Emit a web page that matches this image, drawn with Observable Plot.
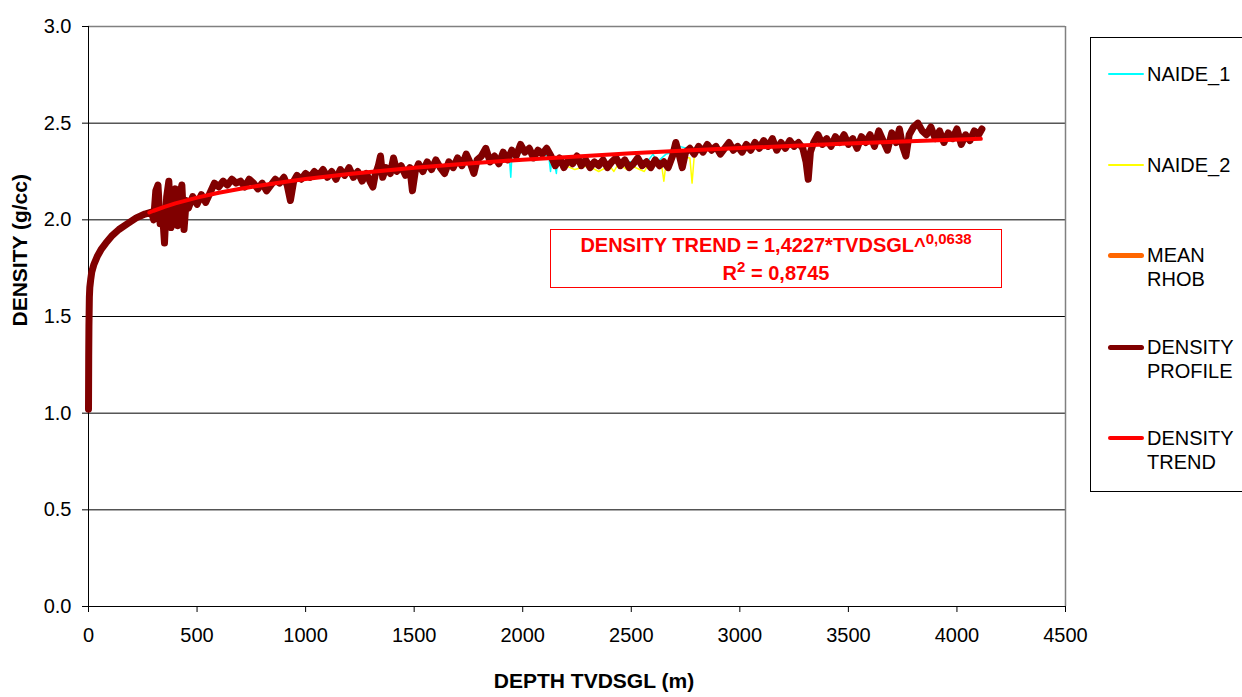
<!DOCTYPE html>
<html><head><meta charset="utf-8">
<script src="https://cdn.jsdelivr.net/npm/d3@7"></script>
<script src="https://cdn.jsdelivr.net/npm/@observablehq/plot@0.6"></script>
<style>
html,body{margin:0;padding:0;background:#fff;overflow:hidden}
#wrap{position:relative;width:1242px;height:697px;font-family:"Liberation Sans",Arial,sans-serif}
#note{position:absolute;left:550px;top:229px;width:452px;height:59px;box-sizing:border-box;border:1px solid #ff0000;color:#ff0000;font-weight:bold;font-size:20px;line-height:26px;text-align:center;padding-top:2px;background:#fff}
#note sup{font-size:15px;vertical-align:baseline;position:relative;top:-8px}
#legend{position:absolute;left:1090px;top:37px;width:170px;height:455px;box-sizing:border-box;border:1px solid #000;background:#fff}
.sw{position:absolute;left:17px;width:36px;border-radius:3px}
.lab{position:absolute;left:56px;font-size:20px;line-height:24px;color:#000;white-space:nowrap}
</style></head>
<body>
<div id="wrap"></div>
<script>
// ---- data ----
const xTicks = [0, 500, 1000, 1500, 2000, 2500, 3000, 3500, 4000, 4500];
const yTicks = [0, 0.5, 1.0, 1.5, 2.0, 2.5, 3.0];
const gridValues = [0.5, 1.0, 1.5, 2.0, 2.5];

// DENSITY PROFILE: [depth m, density g/cc]
const densityProfile = [
  [0,1.02],[1,1.30],[2,1.45],[4,1.60],[6,1.65],[10,1.69],[15,1.73],[25,1.77],[40,1.81],[60,1.85],[80,1.88],
  [110,1.92],[140,1.95],[180,1.98],[220,2.01],[260,2.03],[290,2.04],
  [300,2.00],[310,2.15],[320,2.18],[330,1.98],[340,2.05],[350,1.88],[360,2.12],[370,2.20],[380,1.96],
  [390,2.08],[400,2.16],[410,1.97],[420,2.12],[430,2.18],[440,1.95],[450,2.10],[460,2.06],
  [480,2.12],[500,2.08],[520,2.13],[540,2.09],[560,2.14],
  [580,2.19],[600,2.17],[620,2.20],[640,2.18],[660,2.21],[680,2.19],
  [700,2.20],[720,2.17],[740,2.21],[760,2.19],[780,2.16],[800,2.19],[820,2.15],[840,2.18],[860,2.21],
  [880,2.19],[900,2.22],[915,2.18],[930,2.10],[945,2.20],
  [960,2.23],[980,2.21],[1000,2.24],[1020,2.22],[1040,2.25],[1060,2.23],[1080,2.26],[1100,2.22],
  [1120,2.25],[1140,2.21],[1160,2.26],[1180,2.23],[1200,2.27],[1220,2.22],[1240,2.25],
  [1260,2.20],[1280,2.24],[1300,2.19],[1310,2.17],[1320,2.23],[1335,2.28],[1345,2.33],[1355,2.22],
  [1370,2.27],[1390,2.24],[1405,2.32],[1420,2.25],[1440,2.28],[1460,2.23],[1480,2.27],[1492,2.15],[1505,2.25],
  [1520,2.29],[1540,2.25],[1560,2.30],[1580,2.26],[1600,2.31],[1620,2.27],[1640,2.24],[1660,2.30],[1680,2.27],
  [1700,2.32],[1720,2.28],[1740,2.34],[1760,2.29],[1775,2.24],[1790,2.31],[1810,2.33],[1830,2.37],[1850,2.30],
  [1870,2.33],[1890,2.29],[1910,2.35],[1930,2.31],[1950,2.36],
  [1970,2.33],[1990,2.39],[2010,2.35],[2030,2.37],[2050,2.32],[2070,2.36],[2090,2.34],[2110,2.37],[2130,2.33],
  [2150,2.28],[2170,2.32],[2190,2.27],[2210,2.31],[2230,2.29],[2250,2.33],[2270,2.28],
  [2290,2.31],[2310,2.27],[2330,2.30],[2350,2.28],[2370,2.31],[2390,2.27],[2410,2.30],[2430,2.32],[2450,2.28],
  [2470,2.31],[2490,2.27],[2510,2.29],[2530,2.32],[2550,2.28],[2570,2.30],[2590,2.27],[2610,2.31],[2630,2.28],
  [2650,2.30],[2670,2.27],[2690,2.33],[2705,2.40],[2720,2.34],[2735,2.27],[2750,2.35],[2770,2.37],
  [2790,2.34],[2810,2.38],[2830,2.35],[2850,2.39],[2870,2.36],[2890,2.38],[2910,2.34],[2930,2.37],[2950,2.40],
  [2970,2.36],[2990,2.38],[3010,2.35],[3030,2.39],[3050,2.36],
  [3070,2.40],[3090,2.37],[3110,2.41],[3130,2.38],[3150,2.42],[3170,2.36],[3190,2.40],[3210,2.37],[3230,2.41],
  [3250,2.38],[3270,2.40],[3290,2.37],[3305,2.30],[3315,2.21],[3325,2.35],
  [3340,2.40],[3360,2.44],[3380,2.39],[3400,2.42],[3420,2.38],[3440,2.43],[3460,2.40],[3480,2.44],[3500,2.39],
  [3520,2.42],[3540,2.37],[3560,2.43],[3580,2.40],
  [3600,2.44],[3620,2.38],[3640,2.46],[3660,2.41],[3680,2.36],[3700,2.45],[3720,2.40],[3735,2.47],
  [3750,2.38],[3765,2.33],[3780,2.44],[3800,2.48],[3820,2.50],[3840,2.46],
  [3860,2.44],[3880,2.48],[3900,2.42],[3920,2.46],[3940,2.40],[3960,2.45],[3980,2.42],[4000,2.47],[4020,2.39],
  [4040,2.44],[4060,2.41],[4080,2.46],[4100,2.44],[4115,2.47]
];

// NAIDE_1 (visible only where it leaves the profile band)
const naide1 = [
  [1900,2.32],[1940,2.30],[1945,2.22],[1950,2.33],[2000,2.35],[2120,2.33],[2128,2.25],[2135,2.32],
  [2150,2.27],[2155,2.24],[2160,2.30],[2300,2.29],[2400,2.30],[2500,2.30],[2580,2.31],[2600,2.34],
  [2620,2.30],[2660,2.34],[2700,2.35],[2720,2.38],[2800,2.36]
];
// NAIDE_2
const naide2 = [
  [2200,2.28],[2240,2.26],[2300,2.28],[2350,2.25],[2400,2.28],[2420,2.25],[2440,2.29],[2480,2.26],
  [2500,2.28],[2560,2.25],[2580,2.29],[2640,2.28],[2650,2.20],[2660,2.29],[2700,2.33],[2770,2.32],
  [2780,2.19],[2790,2.33],[2800,2.35]
];
// DENSITY TREND
const densityTrend = [
  [280,2.038],[300,2.047],[350,2.067],[400,2.085],[500,2.115],[600,2.140],[700,2.161],[800,2.179],
  [900,2.196],[1000,2.211],[1200,2.237],[1500,2.269],[1750,2.291],[2000,2.311],[2250,2.328],
  [2500,2.344],[2750,2.358],[3000,2.371],[3250,2.383],[3500,2.395],[3750,2.405],[4110,2.419]
];

const legendLabels = [["NAIDE_1"], ["NAIDE_2"], ["MEAN", "RHOB"], ["DENSITY", "PROFILE"], ["DENSITY", "TREND"]];
const legendColors = ["#00FFFF", "#FFFF00", "#FF6600", "#800000", "#FF0000"];
const legendWidths = [1.5, 1.5, 5, 5, 4];

// ---- chart ----
const pt = d => ({x: d[0], y: d[1]});
const chart = Plot.plot({
  width: 1242, height: 697,
  marginLeft: 88, marginRight: 177, marginTop: 26, marginBottom: 91,
  style: {fontFamily: "'Liberation Sans', Arial, sans-serif", fontSize: "20px", color: "#000", background: "transparent"},
  x: {domain: [0, 4500]},
  y: {domain: [0, 3]},
  marks: [
    Plot.ruleY(gridValues, {stroke: "#000", strokeWidth: 1}),
    Plot.ruleY([3], {stroke: "#808080", strokeWidth: 1.5}),
    Plot.ruleX([4500], {stroke: "#808080", strokeWidth: 1.5}),
    Plot.axisX({ticks: xTicks, tickSize: 6, tickPadding: 15, label: null, tickFormat: d => String(d)}),
    Plot.axisY({ticks: yTicks, tickSize: 6, tickPadding: 11, label: null, tickFormat: d3.format(".1f")}),
    Plot.ruleX([0], {stroke: "#000", strokeWidth: 1}),
    Plot.ruleY([0], {stroke: "#000", strokeWidth: 1}),
    Plot.line(naide1.map(pt), {x: "x", y: "y", stroke: "#00FFFF", strokeWidth: 1.5}),
    Plot.line(naide2.map(pt), {x: "x", y: "y", stroke: "#FFFF00", strokeWidth: 1.5}),
    Plot.line(densityProfile.map(pt), {x: "x", y: "y", stroke: "#800000", strokeWidth: 7, strokeLinejoin: "round", strokeLinecap: "round"}),
    Plot.line(densityTrend.map(pt), {x: "x", y: "y", stroke: "#FF0000", strokeWidth: 4, strokeLinejoin: "round"}),
    Plot.text(["DENSITY (g/cc)"], {frameAnchor: "left", rotate: -90, dx: -68, dy: 10, fontWeight: "bold", fontSize: 21, fill: "#000"}),
    Plot.text(["DEPTH TVDSGL (m)"], {frameAnchor: "bottom", dx: 17, dy: 81, fontWeight: "bold", fontSize: 21, fill: "#000"})
  ]
});
const wrap = document.getElementById("wrap");
wrap.appendChild(chart);

// annotation
const note = document.createElement("div");
note.id = "note";
note.innerHTML = "DENSITY TREND = 1,4227*TVDSGL^<sup>0,0638</sup><br>R<sup>2</sup> = 0,8745";
wrap.appendChild(note);

// legend
const legend = document.createElement("div");
legend.id = "legend";
const centers = [36, 127, 217, 309, 400];
legendLabels.forEach((lines, i) => {
  const sw = document.createElement("div");
  sw.className = "sw";
  sw.style.top = (centers[i] - legendWidths[i] / 2) + "px";
  sw.style.height = legendWidths[i] + "px";
  sw.style.background = legendColors[i];
  legend.appendChild(sw);
  const lab = document.createElement("div");
  lab.className = "lab";
  lab.style.top = (centers[i] - 12) + "px";
  lab.innerHTML = lines.join("<br>");
  legend.appendChild(lab);
});
wrap.appendChild(legend);
</script>
</body></html>
